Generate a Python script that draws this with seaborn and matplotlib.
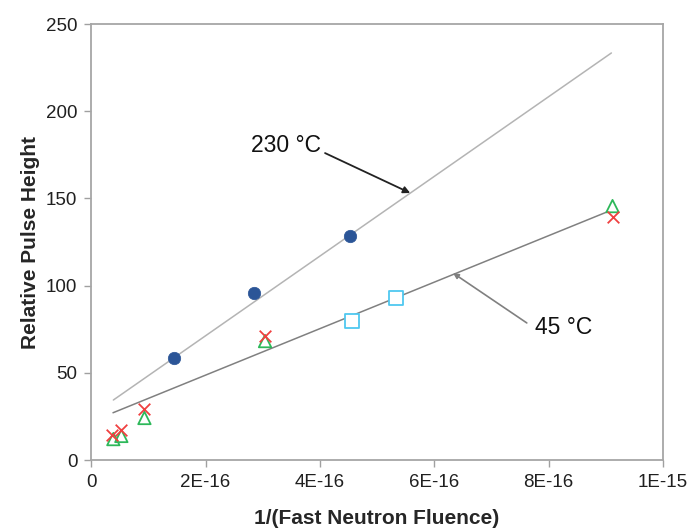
import matplotlib
matplotlib.use("Agg")
import matplotlib.pyplot as plt
import seaborn as sns

sns.set_theme(style="white")
plt.rcParams['font.family'] = ['Liberation Sans', 'DejaVu Sans']

# Data (x in 1/fluence units)
circ_x = [1.44e-16, 2.84e-16, 4.53e-16]
circ_y = [58.5, 95.8, 128.4]
sq_x = [4.56e-16, 5.33e-16]
sq_y = [79.7, 92.9]
tri_x = [0.386e-16, 0.526e-16, 0.93e-16, 3.04e-16, 9.12e-16]
tri_y = [12.0, 13.8, 24.1, 68.2, 145.6]
cross_x = [0.37e-16, 0.526e-16, 0.93e-16, 3.04e-16, 9.12e-16]
cross_y = [14.3, 17.2, 29.2, 71.1, 139.3]

# Trend lines (endpoints)
line230_x = [0.386e-16, 9.1e-16]
line230_y = [34.4, 233.4]
line45_x = [0.38e-16, 9.02e-16]
line45_y = [27.1, 142.2]

xticks = [0, 2e-16, 4e-16, 6e-16, 8e-16, 1e-15]
xtick_labels = ["0", "2E-16", "4E-16", "6E-16", "8E-16", "1E-15"]
yticks = [0, 50, 100, 150, 200, 250]

fig = plt.figure(figsize=(6.89, 5.29), dpi=100)
ax = fig.add_axes([0.1325, 0.1304, 0.8295, 0.8242])

sns.lineplot(x=line230_x, y=line230_y, ax=ax, color="#b4b4b4", linewidth=1.1)
sns.lineplot(x=line45_x, y=line45_y, ax=ax, color="#808080", linewidth=1.1)

sns.scatterplot(x=circ_x, y=circ_y, ax=ax, marker="o", s=80, color="#2B5597",
                edgecolor="#2B5597", linewidth=0.5, zorder=5)
sns.scatterplot(x=sq_x, y=sq_y, ax=ax, marker="s", s=90, facecolor="white",
                edgecolor="#4FC8F0", linewidth=1.3, zorder=5)
sns.scatterplot(x=tri_x, y=tri_y, ax=ax, marker="^", s=80, facecolor="none",
                edgecolor="#2DB85A", linewidth=1.3, zorder=5)
sns.scatterplot(x=cross_x, y=cross_y, ax=ax, marker="x", s=70, color="#F04040",
                linewidth=1.3, zorder=6)

ax.set_xlim(0, 1e-15)
ax.set_ylim(0, 250)
ax.set_xticks(xticks)
ax.set_xticklabels(xtick_labels)
ax.set_yticks(yticks)
ax.tick_params(axis='both', direction='out', length=5, width=1, color="#a0a0a0",
               labelsize=13.5, labelcolor="#202020", pad=5, bottom=True, left=True)
for sp in ax.spines.values():
    sp.set_color("#a6a6a6")
    sp.set_linewidth(1.3)

ax.set_xlabel("1/(Fast Neutron Fluence)", fontsize=15, fontweight="bold", labelpad=13)
ax.set_ylabel("Relative Pulse Height", fontsize=15, fontweight="bold", labelpad=4)

# 230 °C annotation
ax.text(3.40e-16, 180.6, "230 °C", fontsize=16.5, ha="center", va="center", color="#111111")
ax.annotate("", xy=(5.58e-16, 153.1), xytext=(4.09e-16, 176.0),
            arrowprops=dict(arrowstyle="-|>", color="#222222", lw=1.3,
                            mutation_scale=10, shrinkA=0, shrinkB=0))
# 45 °C annotation
ax.text(8.27e-16, 75.7, "45 °C", fontsize=16.5, ha="center", va="center", color="#111111")
ax.annotate("", xy=(6.33e-16, 107.2), xytext=(7.62e-16, 78.6),
            arrowprops=dict(arrowstyle="-|>", color="#808080", lw=1.2,
                            mutation_scale=8, shrinkA=0, shrinkB=0))

fig.savefig("out.png", dpi=100)
